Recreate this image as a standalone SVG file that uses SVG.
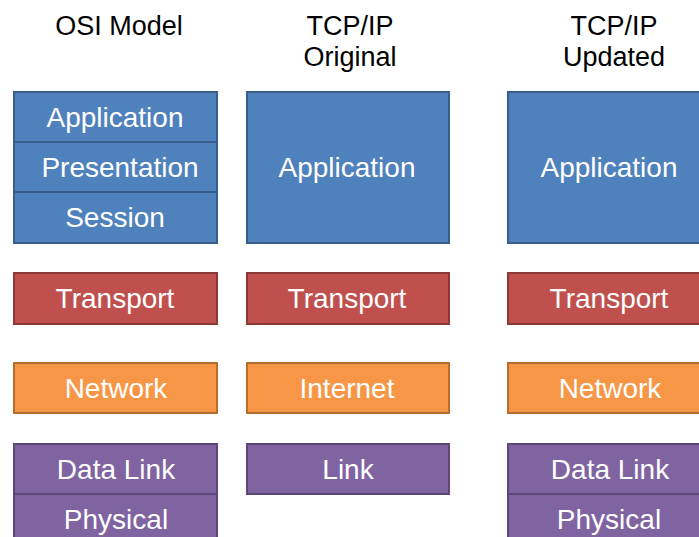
<svg xmlns="http://www.w3.org/2000/svg" width="699" height="537" viewBox="0 0 699 537">
<style>
text{font-family:"Liberation Sans",Arial,sans-serif;text-anchor:middle}
.t{font-size:27px;fill:#000}
.l{font-size:28px;fill:#fff}
.b rect{fill:#4F81BD;stroke:#385D8A;stroke-width:2}
.r rect{fill:#C0504D;stroke:#8C3836;stroke-width:2}
.o rect{fill:#F79646;stroke:#B66D31;stroke-width:2}
.p rect{fill:#8064A2;stroke:#5C4776;stroke-width:2}
</style>
<rect width="699" height="537" fill="#fff"/>
<g id="titles">
<text class="t" x="119" y="35">OSI Model</text>
<text class="t" x="350" y="35">TCP/IP</text>
<text class="t" x="350" y="66">Original</text>
<text class="t" x="614" y="35">TCP/IP</text>
<text class="t" x="614" y="66">Updated</text>
</g>
<g id="osi-application" class="b"><rect x="14" y="92" width="203" height="50"/><text class="l" x="115" y="127">Application</text></g>
<g id="osi-presentation" class="b"><rect x="14" y="142" width="203" height="50"/><text class="l" x="120" y="177">Presentation</text></g>
<g id="osi-session" class="b"><rect x="14" y="192" width="203" height="51"/><text class="l" x="115" y="227">Session</text></g>
<g id="osi-transport" class="r"><rect x="14" y="273" width="203" height="51"/><text class="l" x="115" y="308">Transport</text></g>
<g id="osi-network" class="o"><rect x="14" y="363" width="203" height="50"/><text class="l" x="116" y="398">Network</text></g>
<g id="osi-datalink" class="p"><rect x="14" y="444" width="203" height="50"/><text class="l" x="116" y="479">Data Link</text></g>
<g id="osi-physical" class="p"><rect x="14" y="494" width="203" height="50"/><text class="l" x="116" y="529">Physical</text></g>
<g id="orig-application" class="b"><rect x="247" y="92" width="202" height="151"/><text class="l" x="347" y="177">Application</text></g>
<g id="orig-transport" class="r"><rect x="247" y="273" width="202" height="51"/><text class="l" x="347" y="308">Transport</text></g>
<g id="orig-internet" class="o"><rect x="247" y="363" width="202" height="50"/><text class="l" x="347" y="398">Internet</text></g>
<g id="orig-link" class="p"><rect x="247" y="444" width="202" height="50"/><text class="l" x="348" y="479">Link</text></g>
<g id="upd-application" class="b"><rect x="508" y="92" width="203" height="151"/><text class="l" x="609" y="177">Application</text></g>
<g id="upd-transport" class="r"><rect x="508" y="273" width="203" height="51"/><text class="l" x="609" y="308">Transport</text></g>
<g id="upd-network" class="o"><rect x="508" y="363" width="203" height="50"/><text class="l" x="610" y="398">Network</text></g>
<g id="upd-datalink" class="p"><rect x="508" y="444" width="203" height="50"/><text class="l" x="610" y="479">Data Link</text></g>
<g id="upd-physical" class="p"><rect x="508" y="494" width="203" height="50"/><text class="l" x="609" y="529">Physical</text></g>
<g id="connectors"/>
</svg>
